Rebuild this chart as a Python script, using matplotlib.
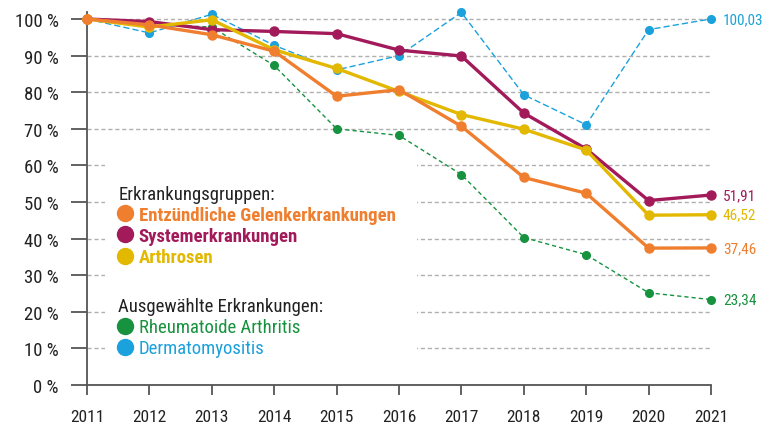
import matplotlib
matplotlib.use("Agg")
import matplotlib.pyplot as plt
from matplotlib import font_manager
from matplotlib.lines import Line2D
from matplotlib.patches import Rectangle

# pick a narrow font if one is installed
names = {f.name for f in font_manager.fontManager.ttflist}
font = "DejaVu Sans"
for cand in ["Liberation Sans Narrow", "DejaVu Sans Condensed", "Roboto Condensed"]:
    if cand in names:
        font = cand
        break
plt.rcParams["font.family"] = [font, "DejaVu Sans"]
plt.rcParams["lines.scale_dashes"] = False

years = [2011, 2012, 2013, 2014, 2015, 2016, 2017, 2018, 2019, 2020, 2021]
entzuendlich = [100, 98.4, 95.7, 91.2, 78.9, 80.7, 70.7, 56.7, 52.4, 37.4, 37.46]
system = [100, 99.3, 97.1, 96.6, 96.0, 91.5, 89.9, 74.3, 64.5, 50.4, 51.91]
arthrosen = [100, 97.8, 99.8, 91.6, 86.5, 80.2, 73.9, 69.9, 64.2, 46.4, 46.52]
rheuma = [100, 98.6, 97.8, 87.3, 70.0, 68.2, 57.5, 40.3, 35.6, 25.2, 23.34]
dermato = [100, 96.2, 101.3, 92.8, 86.1, 90.0, 101.8, 79.3, 71.1, 97.1, 100.03]
end_labels = ["37,46", "51,91", "46,52", "23,34", "100,03"]
yticks = [0, 10, 20, 30, 40, 50, 60, 70, 80, 90, 100]

c_orange = "#EF7F2E"
c_purple = "#A21A59"
c_yellow = "#E2B800"
c_green = "#17923F"
c_blue = "#1BA1DC"
dark = "#222222"
axis_c = "#555555"

fig = plt.figure(figsize=(7.78, 4.31), dpi=100)
ax = fig.add_axes([87 / 778, 1 - 386 / 431, 624 / 778, 373.3 / 431])

ax.set_xlim(2011, 2021)
ax.set_ylim(0, 102)

ax.grid(axis="y", color="#b0b0b0", linewidth=1.0, linestyle=(0, (3, 2)), zorder=0)
ax.set_axisbelow(True)
# white block behind the legend interrupts the grid
ax.add_patch(Rectangle((0.029, 0.07), 0.50, 0.55, transform=ax.transAxes,
                       facecolor="white", edgecolor="none", zorder=1))

ax.plot(years, rheuma, color=c_green, linewidth=1.0, dashes=(3, 2.2),
        marker="o", markersize=5.5, zorder=2, clip_on=False)
ax.plot(years, dermato, color=c_blue, linewidth=1.0, dashes=(4.5, 2.2),
        marker="o", markersize=5.5, zorder=2, clip_on=False)
ax.plot(years, system, color=c_purple, linewidth=2.4, marker="o",
        markersize=6.5, zorder=3, clip_on=False)
ax.plot(years, arthrosen, color=c_yellow, linewidth=2.4, marker="o",
        markersize=6.5, zorder=4, clip_on=False)
ax.plot(years, entzuendlich, color=c_orange, linewidth=2.4, marker="o",
        markersize=6.5, zorder=5, clip_on=False)

series = [entzuendlich, system, arthrosen, rheuma, dermato]
colors = [c_orange, c_purple, c_yellow, c_green, c_blue]
for vals, lab, col in zip(series, end_labels, colors):
    ax.annotate(lab, (years[-1], vals[-1]), xytext=(8.5, 0), textcoords="offset points",
                ha="left", va="center", color=col, fontsize=11, annotation_clip=False)

ax.set_xticks(years)
ax.set_xticklabels([str(y) for y in years])
ax.set_yticks(yticks)
ax.set_yticklabels([f"{v} %" for v in yticks])

for s in ["top", "right"]:
    ax.spines[s].set_visible(False)
for s in ["left", "bottom"]:
    ax.spines[s].set_color(axis_c)
    ax.spines[s].set_linewidth(1.3)
ax.tick_params(axis="y", length=11.5, width=1.3, color=axis_c, pad=9,
               labelsize=13.5, labelcolor=dark)
ax.tick_params(axis="x", length=7, width=1.3, color=axis_c, pad=10,
               labelsize=12.5, labelcolor=dark)

def handle(c):
    return Line2D([], [], linestyle="none", marker="o", markersize=11.5,
                  markerfacecolor=c, markeredgecolor=c)

leg_size = 13.5
leg1 = ax.legend([handle(c_orange), handle(c_purple), handle(c_yellow)],
                 ["Entzündliche Gelenkerkrankungen", "Systemerkrankungen", "Arthrosen"],
                 title="Erkrankungsgruppen:", alignment="left", frameon=False,
                 loc="upper left", bbox_to_anchor=(0.05, 0.537), borderpad=0,
                 borderaxespad=0, handlelength=0.7, handletextpad=0.4,
                 labelspacing=0.17, prop={"size": leg_size, "weight": "bold"},
                 title_fontproperties={"size": leg_size})
for t, c in zip(leg1.get_texts(), [c_orange, c_purple, c_yellow]):
    t.set_color(c)
leg1.get_title().set_color(dark)
leg1.set_zorder(6)
ax.add_artist(leg1)

leg2 = ax.legend([handle(c_green), handle(c_blue)],
                 ["Rheumatoide Arthritis", "Dermatomyositis"],
                 title="Ausgewählte Erkrankungen:", alignment="left", frameon=False,
                 loc="upper left", bbox_to_anchor=(0.05, 0.236), borderpad=0,
                 borderaxespad=0, handlelength=0.7, handletextpad=0.4,
                 labelspacing=0.17, prop={"size": leg_size},
                 title_fontproperties={"size": leg_size})
for t, c in zip(leg2.get_texts(), [c_green, c_blue]):
    t.set_color(c)
leg2.get_title().set_color(dark)
leg2.set_zorder(6)

fig.savefig("out.png", dpi=100)
